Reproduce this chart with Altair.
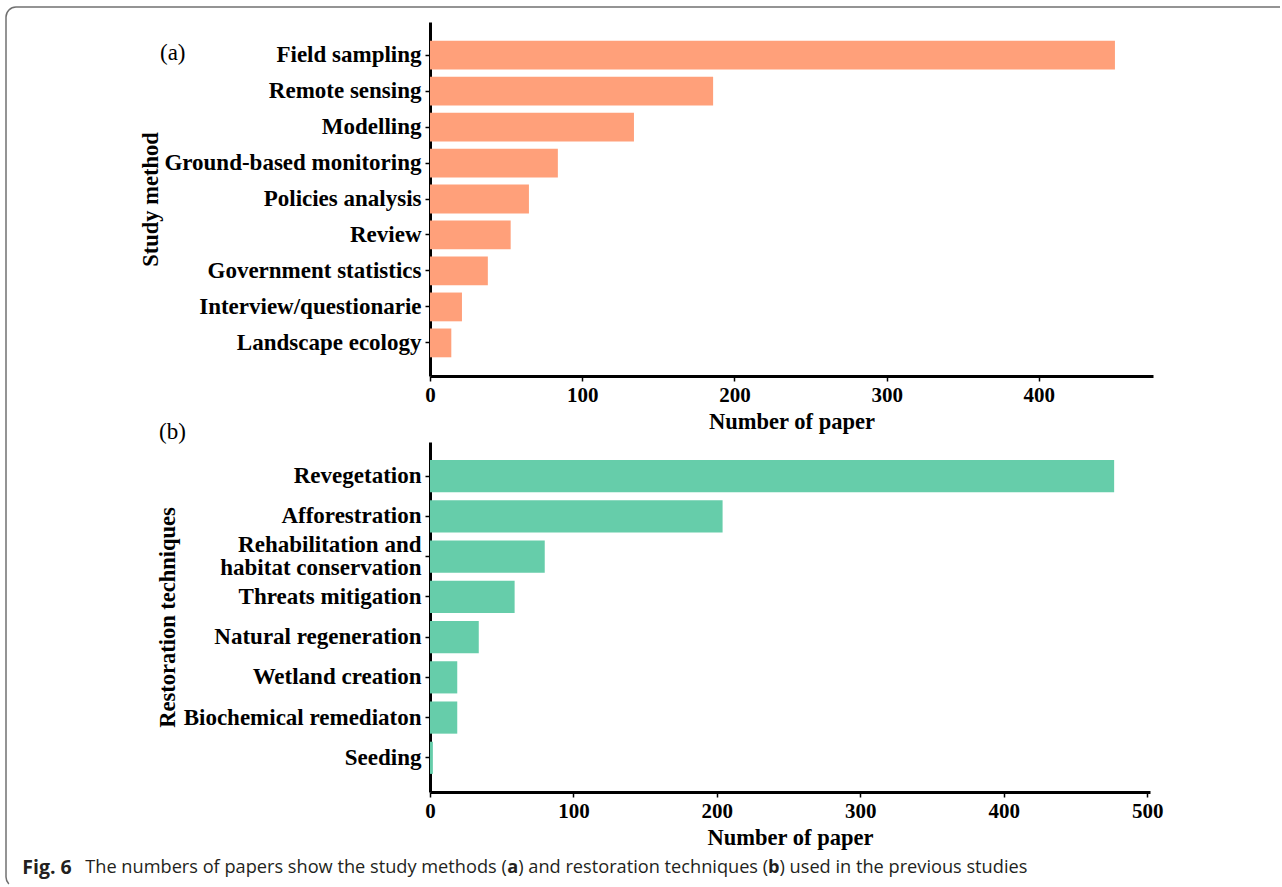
import altair as alt
import pandas as pd

# ---------------- data ----------------
methods = ["Field sampling", "Remote sensing", "Modelling", "Ground-based monitoring",
           "Policies analysis", "Review", "Government statistics",
           "Interview/questionarie", "Landscape ecology"]
method_counts = [450, 186, 134, 84, 65, 53, 38, 21, 14]

techniques = ["Revegetation", "Afforestration", "Rehabilitation and \nhabitat conservation",
              "Threats mitigation", "Natural regeneration", "Wetland creation",
              "Biochemical remediaton", "Seeding"]
technique_counts = [477, 204, 80, 59, 34, 19, 19, 2]

ticks_a = [0, 100, 200, 300, 400]
ticks_b = [0, 100, 200, 300, 400, 500]

SERIF = "Liberation Serif"
BORDER = "#707070"
CAP = "#231F20"


def axis_common(**kw):
    return alt.Axis(
        grid=False, domainColor="black", domainWidth=3, tickColor="black",
        tickWidth=1.5, tickSize=5, labelColor="black", labelFont=SERIF,
        labelFontWeight="bold", titleFont=SERIF, titleFontWeight="bold",
        titleColor="black", titleFontSize=22.5, labelLimit=500, **kw)


def one(s):
    return pd.DataFrame({"t": [s]})


# ---------------- panel (a) ----------------
df_a = pd.DataFrame({"method": methods, "count": method_counts})
bars_a = alt.Chart(df_a).mark_bar(color="#FFA07A").encode(
    x=alt.X("count:Q", scale=alt.Scale(domain=[0, 475], nice=False, zero=True),
            axis=axis_common(values=ticks_a, title="Number of paper", labelFontSize=21,
                             labelPadding=3, titlePadding=5, labelFlush=False)),
    y=alt.Y("method:N", sort=methods,
            scale=alt.Scale(paddingInner=0.2, paddingOuter=0.52),
            axis=axis_common(title="Study method", labelFontSize=23, labelPadding=4,
                             titleX=-268, titleY=177)),
)

lab_a = alt.Chart(one("(a)")).mark_text(font=SERIF, fontSize=23, align="left",
                                         baseline="middle", color="black").encode(
    text="t:N", x=alt.value(-270), y=alt.value(31))

# figure border (top-left rounded box, continues past the page)
top_rule = alt.Chart(one("b")).mark_rule(color=BORDER, strokeWidth=1.5).encode(
    x=alt.value(-414), x2=alt.value(850), y=alt.value(-15))
left_rule = alt.Chart(one("b")).mark_rule(color=BORDER, strokeWidth=1.5).encode(
    x=alt.value(-424), y=alt.value(-5), y2=alt.value(855))
corner_tl = alt.Chart(one("b")).mark_arc(color=BORDER, theta=4.7124, theta2=6.2832,
                                          radius=10.75, radius2=9.25).encode(
    x=alt.value(-414), y=alt.value(-5))
corner_bl = alt.Chart(one("b")).mark_arc(color=BORDER, theta=3.94, theta2=4.7124,
                                          radius=10.75, radius2=9.25).encode(
    x=alt.value(-414), y=alt.value(855))

panel_a = alt.layer(bars_a, lab_a, top_rule, left_rule, corner_tl, corner_bl).properties(
    width=723, height=354)

# ---------------- panel (b) ----------------
df_b = pd.DataFrame({"tech": techniques, "count": technique_counts})
bars_b = alt.Chart(df_b).mark_bar(color="#66CDAA").encode(
    x=alt.X("count:Q", scale=alt.Scale(domain=[0, 502], nice=False, zero=True),
            axis=axis_common(values=ticks_b, title="Number of paper", labelFontSize=21,
                             labelPadding=3, titlePadding=5, labelFlush=False)),
    y=alt.Y("tech:N", sort=techniques,
            scale=alt.Scale(paddingInner=0.2, paddingOuter=0.45),
            axis=axis_common(title="Restoration techniques", labelFontSize=23,
                             labelPadding=4, titleX=-251, titleY=175, labelLineHeight=23,
                             labelOffset={"condition": {
                                 "test": "substring(datum.value, 0, 14) == 'Rehabilitation'",
                                 "value": -11.5}, "value": 0},
                             labelExpr="split(datum.label, '\\n')")),
)

lab_b = alt.Chart(one("(b)")).mark_text(font=SERIF, fontSize=23, align="left",
                                         baseline="middle", color="black").encode(
    text="t:N", x=alt.value(-271), y=alt.value(-10))

# caption (page x of each segment minus the plot origin at ~429.75)
cap_y = 426
caption_parts = [
    ("Fig. 6", "bold", 19.5, -407.75),
    ("The numbers of papers show the study methods (", "normal", 18.2, -344.75),
    ("a", "bold", 18.2, 77.3),
    (") and restoration techniques (", "normal", 18.2, 88.2),
    ("b", "bold", 18.2, 338.0),
    (") used in the previous studies", "normal", 18.2, 349.5),
]
caption_layers = []
for txt, wt, fs, xp in caption_parts:
    caption_layers.append(
        alt.Chart(one(txt)).mark_text(font="Open Sans", fontSize=fs, fontWeight=wt,
                                      align="left", baseline="middle", color=CAP).encode(
            text="t:N", x=alt.value(xp), y=alt.value(cap_y)))

panel_b = alt.layer(bars_b, lab_b, *caption_layers).properties(width=720, height=350)

chart = alt.vconcat(panel_a, panel_b, spacing=66, bounds="flush").properties(
    padding={"left": 5, "top": 6, "right": 0, "bottom": 0},
    background="white",
).configure_view(stroke=None)

chart.save("out.html", embed_options={"renderer": "svg", "actions": False})
